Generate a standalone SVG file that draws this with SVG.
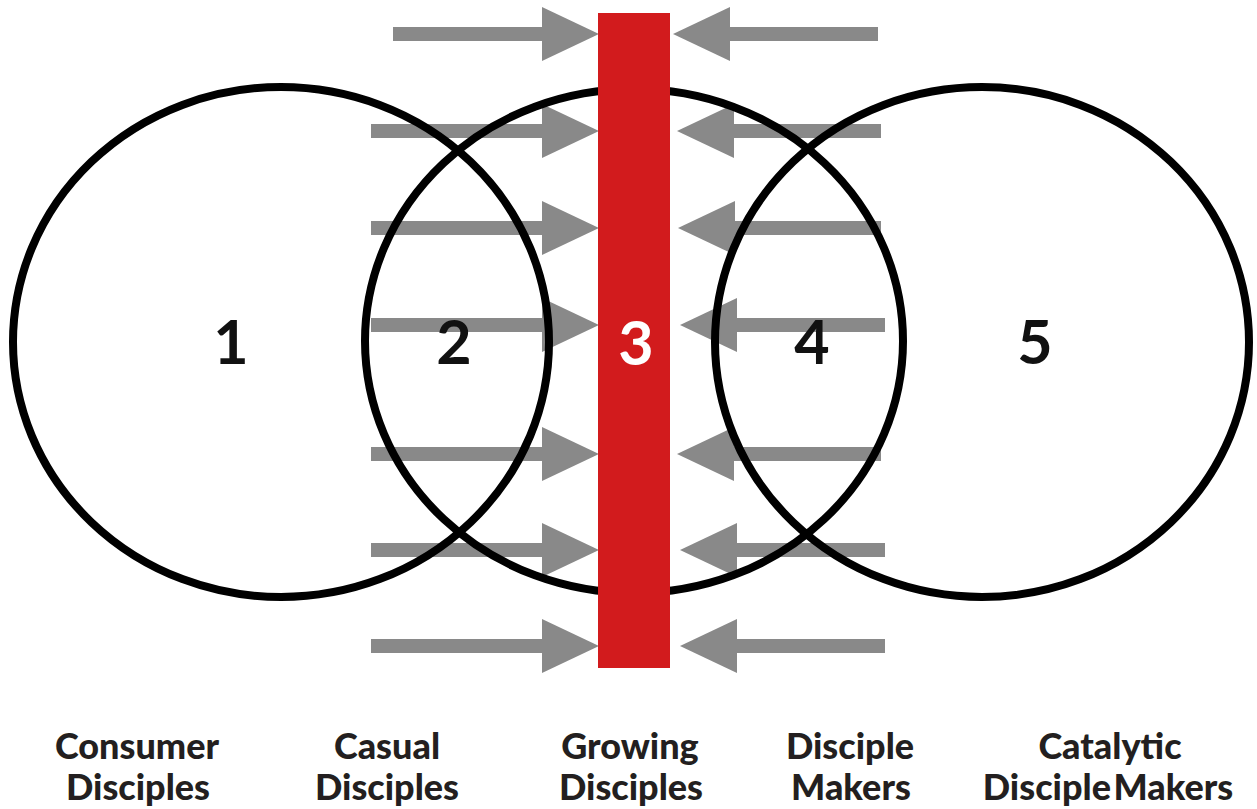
<svg xmlns="http://www.w3.org/2000/svg" width="1257" height="809" viewBox="0 0 1257 809">
  <style>
    .arrow { stroke: #898989; stroke-width: 14; fill: none; }
    .ring { fill: none; stroke: #000; stroke-width: 8; }
    .num { font-family: Lato, "Liberation Sans", sans-serif; font-size: 61px; font-weight: 700; text-anchor: middle; fill: #111; }
    .lbl { font-family: Lato, "Liberation Sans", sans-serif; font-size: 36px; font-weight: 900; text-anchor: middle; fill: #231f20; }
  </style>
  <defs>
    <marker id="head" markerUnits="userSpaceOnUse" markerWidth="58" markerHeight="54" refX="0" refY="27" orient="auto" overflow="visible">
      <path d="M0,0 L57,27 L0,54 Z" fill="#898989"/>
    </marker>
  </defs>
  <rect width="1257" height="809" fill="#fff"/>

  <g id="connectors">
    <line class="arrow" x1="393" y1="34" x2="542" y2="34" marker-end="url(#head)"/>
    <line class="arrow" x1="371" y1="131" x2="542" y2="131" marker-end="url(#head)"/>
    <line class="arrow" x1="371" y1="228" x2="542" y2="228" marker-end="url(#head)"/>
    <line class="arrow" x1="371" y1="325" x2="542" y2="325" marker-end="url(#head)"/>
    <line class="arrow" x1="371" y1="454" x2="542" y2="454" marker-end="url(#head)"/>
    <line class="arrow" x1="371" y1="550" x2="542" y2="550" marker-end="url(#head)"/>
    <line class="arrow" x1="371" y1="646" x2="542" y2="646" marker-end="url(#head)"/>

    <line class="arrow" x1="878" y1="34" x2="730" y2="34" marker-end="url(#head)"/>
    <line class="arrow" x1="881" y1="131" x2="734" y2="131" marker-end="url(#head)"/>
    <line class="arrow" x1="881" y1="228" x2="735" y2="228" marker-end="url(#head)"/>
    <line class="arrow" x1="885" y1="325" x2="737" y2="325" marker-end="url(#head)"/>
    <line class="arrow" x1="881" y1="454" x2="734" y2="454" marker-end="url(#head)"/>
    <line class="arrow" x1="885" y1="550" x2="737" y2="550" marker-end="url(#head)"/>
    <line class="arrow" x1="885" y1="646" x2="737" y2="646" marker-end="url(#head)"/>
  </g>

  <g id="circle-1"><ellipse class="ring" cx="281" cy="342" rx="268" ry="255"/></g>
  <g id="circle-2"><ellipse class="ring" cx="634" cy="341" rx="269" ry="252"/></g>
  <g id="circle-3"><ellipse class="ring" cx="982" cy="342" rx="267" ry="255"/></g>

  <g id="bar-3"><rect x="598" y="13" width="72" height="655" fill="#d21b1d"/></g>

  <g id="numbers">
    <text class="num" x="231" y="364">1</text>
    <text class="num" x="454" y="364">2</text>
    <text class="num" x="636" y="365" style="fill:#fff">3</text>
    <text class="num" x="812" y="364">4</text>
    <text class="num" x="1035" y="364">5</text>
  </g>

  <g id="label-consumer"><text class="lbl" x="137" y="759">Consumer</text><text class="lbl" x="138" y="800">Disciples</text></g>
  <g id="label-casual"><text class="lbl" x="387" y="759">Casual</text><text class="lbl" x="387" y="800">Disciples</text></g>
  <g id="label-growing"><text class="lbl" x="630" y="759">Growing</text><text class="lbl" x="631" y="800">Disciples</text></g>
  <g id="label-makers"><text class="lbl" x="850" y="759">Disciple</text><text class="lbl" x="851" y="800">Makers</text></g>
  <g id="label-catalytic"><text class="lbl" x="1110" y="759">Catalytic</text><text class="lbl" x="1108" y="800" word-spacing="-6">Disciple Makers</text></g>
</svg>
